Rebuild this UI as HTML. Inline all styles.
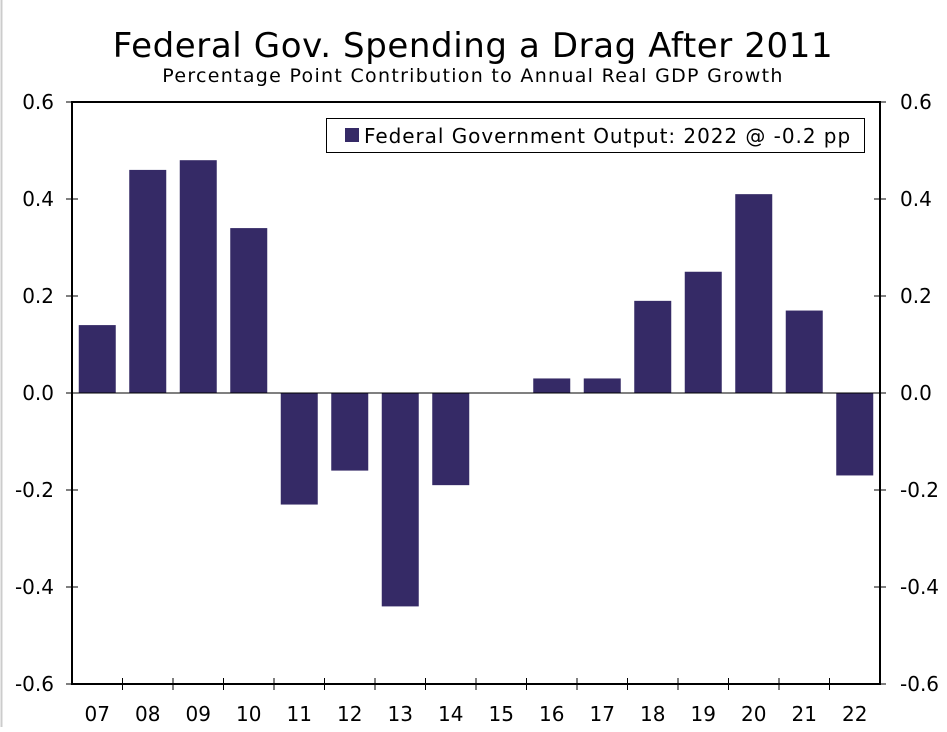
<!DOCTYPE html>
<html><head><meta charset="utf-8"><style>
body{margin:0;background:#fff;}
svg text{font-family:"DejaVu Sans","Liberation Sans",sans-serif;fill:#000;}
</style></head><body>
<svg width="947" height="727" xmlns="http://www.w3.org/2000/svg">
<rect x="0" y="0" width="947" height="727" fill="#fff"/>
<line x1="1.5" y1="0" x2="1.5" y2="727" stroke="#ccc" stroke-width="2"/>
<text x="473" y="57" font-size="34" letter-spacing="0.6" text-anchor="middle">Federal Gov. Spending a Drag After 2011</text>
<text x="473" y="82" font-size="19" letter-spacing="1.3" text-anchor="middle">Percentage Point Contribution to Annual Real GDP Growth</text>
<g id="plot"></g>
<g>
<rect x="326.5" y="118.5" width="538" height="34" fill="#fff" stroke="#000" stroke-width="1"/>
<rect x="345" y="128" width="14" height="14" fill="#352a66"/>
<text x="364" y="143" font-size="20" letter-spacing="0.95">Federal Government Output: 2022 @ -0.2 pp</text>
</g>
</svg>
<script>
const categories=["07","08","09","10","11","12","13","14","15","16","17","18","19","20","21","22"];
const values=[0.14,0.46,0.48,0.34,-0.23,-0.16,-0.44,-0.19,0,0.03,0.03,0.19,0.25,0.41,0.17,-0.17];
const yTicks=[0.6,0.4,0.2,0.0,-0.2,-0.4,-0.6];
const yTickLabels=["0.6","0.4","0.2","0.0","-0.2","-0.4","-0.6"];
const L=72,R=880,T=102,B=684,yMin=-0.6,yMax=0.6;
const ns="http://www.w3.org/2000/svg";
const g=document.getElementById('plot');
function y(v){return B-(v-yMin)/(yMax-yMin)*(B-T);}
const step=(R-L)/categories.length;
function xc(i){return L+step*(i+0.5);}
function mk(tag,attrs){const e=document.createElementNS(ns,tag);for(const k in attrs)e.setAttribute(k,attrs[k]);g.appendChild(e);return e;}
values.forEach((v,i)=>{
const w=37;const y0=y(0),y1=y(v);
const r=mk('rect',{x:xc(i)-w/2,y:Math.min(y0,y1),width:w,height:Math.abs(y1-y0),fill:'#352a66'});


});
const z=mk('line',{x1:L,x2:R,y1:y(0),y2:y(0),stroke:'#000','stroke-width':1});


const frame=mk('path',{d:`M${L},${T}H${R}V${B}H${L}Z`,fill:'none',stroke:'#000','stroke-width':2});


yTicks.forEach((t,i)=>{
const yy=y(t);
mk('line',{x1:L-6,x2:L+6,y1:yy,y2:yy,stroke:'#000','stroke-width':1});
mk('line',{x1:R-6,x2:R+6,y1:yy,y2:yy,stroke:'#000','stroke-width':1});
const a=mk('text',{x:L-18,y:yy+7,'font-size':20,'text-anchor':'end'});a.textContent=yTickLabels[i];


const b=mk('text',{x:R+20,y:yy+7,'font-size':20,'text-anchor':'start'});b.textContent=yTickLabels[i];


});
categories.forEach((c,i)=>{
const xx=L+step*i;
if(i>0)mk('line',{x1:xx,x2:xx,y1:B-6,y2:B+6,stroke:'#000','stroke-width':1});
const t=mk('text',{x:xc(i),y:B+37,'font-size':20,'text-anchor':'middle'});t.textContent=c;


});
</script>
</body></html>
